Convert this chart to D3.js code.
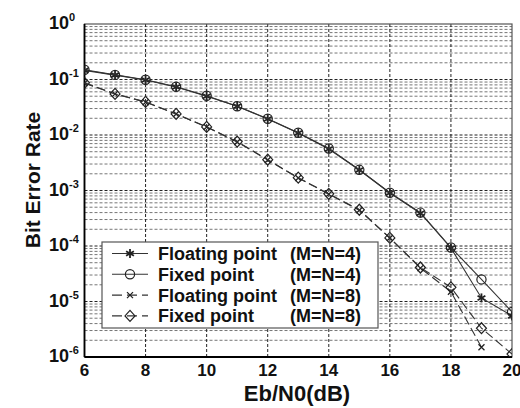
<!DOCTYPE html>
<html><head><meta charset="utf-8">
<script src="https://cdn.jsdelivr.net/npm/d3@7"></script>
<style>body{margin:0;background:#fff}svg{display:block}text{font-family:"Liberation Sans",Arial,sans-serif;font-weight:bold;fill:#111}</style>
</head><body>
<script>
const snr = [6,7,8,9,10,11,12,13,14,15,16,17,18,19,20];
const floatN4 = [0.146,0.120,0.098,0.073,0.050,0.033,0.0194,0.0109,0.0056,0.00234,0.00090,0.00039,9.2e-5,1.16e-5,5.5e-6];
const fixedN4 = [0.150,0.121,0.099,0.074,0.051,0.033,0.0196,0.0110,0.0057,0.00236,0.00091,0.00040,9.4e-5,2.5e-5,6.5e-6];
const snrN8Float = [6,7,8,9,10,11,12,13,14,15,16,17,18,19];
const floatN8 = [0.086,0.055,0.039,0.0239,0.0139,0.0075,0.00355,0.00168,0.00086,0.00044,0.000139,4.0e-5,1.5e-5,1.5e-6];
const fixedN8 = [0.087,0.055,0.0395,0.024,0.014,0.0076,0.0036,0.0017,0.00087,0.00045,0.00014,4.1e-5,1.8e-5,3.3e-6,1.13e-6];
const xTicks = [6,8,10,12,14,16,18,20];
const yExps = [0,-1,-2,-3,-4,-5,-6];
const legendNames = ["Floating point","Fixed point","Floating point","Fixed point"];
const legendParams = ["(M=N=4)","(M=N=4)","(M=N=8)","(M=N=8)"];

const W=520,H=408, L=84.5, R=512, T=24, B=357;
const svg = d3.select("body").append("svg").attr("width",W).attr("height",H);
const x = d3.scaleLinear().domain([6,20]).range([L,R]);
const y = d3.scaleLog().domain([1e-6,1]).range([B,T]);

svg.append("clipPath").attr("id","clip").append("rect").attr("x",L).attr("y",T).attr("width",R-L).attr("height",B-T);

// grid
const g = svg.append("g");
const minor=[];
for(let e=-6;e<0;e++){for(let k=2;k<=9;k++)minor.push(k*Math.pow(10,e));}
g.selectAll("line.mn").data(minor).join("line").attr("x1",L).attr("x2",R)
 .attr("y1",d=>y(d)).attr("y2",d=>y(d)).attr("stroke","#666").attr("stroke-width",0.9).attr("stroke-dasharray","3,2");
g.selectAll("line.mj").data(yExps.slice(1,6)).join("line").attr("x1",L).attr("x2",R)
 .attr("y1",d=>y(Math.pow(10,d))).attr("y2",d=>y(Math.pow(10,d))).attr("stroke","#222").attr("stroke-width",1).attr("stroke-dasharray","3,2");
g.selectAll("line.vx").data(xTicks.slice(1,7)).join("line").attr("y1",T).attr("y2",B)
 .attr("x1",d=>x(d)).attr("x2",d=>x(d)).attr("stroke","#222").attr("stroke-width",1).attr("stroke-dasharray","3,2");

// frame
svg.append("rect").attr("x",L).attr("y",T).attr("width",R-L).attr("height",B-T).attr("fill","none").attr("stroke","#555").attr("stroke-width",1.2);
svg.append("line").attr("x1",L).attr("x2",L).attr("y1",T).attr("y2",B).attr("stroke","#000").attr("stroke-width",1.8);
svg.append("line").attr("x1",L).attr("x2",R).attr("y1",B).attr("y2",B).attr("stroke","#000").attr("stroke-width",1.8);

// axes ticks labels
svg.selectAll("text.xt").data(xTicks).join("text").attr("x",d=>x(d)).attr("y",376)
 .attr("text-anchor","middle").attr("font-size",17).text(d=>d);
const yt = svg.selectAll("text.yt").data(yExps).join("text").attr("x",49).attr("y",d=>y(Math.pow(10,d))+5).attr("font-size",18);
yt.append("tspan").text("10");
yt.append("tspan").attr("dy",-8).attr("font-size",11).text(d=>String(d));

svg.append("text").attr("transform","translate(40,180) rotate(-90)").attr("text-anchor","middle").attr("font-size",21).text("Bit Error Rate");
svg.append("text").attr("x",297).attr("y",401).attr("text-anchor","middle").attr("font-size",22).text("Eb/N0(dB)");

// markers
const stroke="#222";
function marker(sel,type,cx,cy){
  const m = sel.append("g").attr("transform",`translate(${cx},${cy})`).attr("stroke",stroke).attr("stroke-width",1).attr("fill","none");
  if(type==="star"){ for(let a=0;a<3;a++){const t=a*Math.PI/3+Math.PI/2; m.append("line").attr("x1",4.5*Math.cos(t)).attr("y1",4.5*Math.sin(t)).attr("x2",-4.5*Math.cos(t)).attr("y2",-4.5*Math.sin(t));} m.attr("stroke-width",1.8);}
  else if(type==="circle"){ m.append("circle").attr("r",4.6).attr("stroke-width",1.2);}
  else if(type==="x"){ m.append("path").attr("d","M-3,-3L3,3M-3,3L3,-3").attr("stroke-width",1.3);}
  else if(type==="diamond"){ m.append("path").attr("d","M0,-5.5L5,0L0,5.5L-5,0Z").attr("stroke-width",1.2);}
}
const series = [
 {xs:snr,ys:floatN4,dash:null,m:"star"},
 {xs:snr,ys:fixedN4,dash:null,m:"circle"},
 {xs:snrN8Float,ys:floatN8,dash:"9,4",m:"x"},
 {xs:snr,ys:fixedN8,dash:"9,4",m:"diamond"}
];
const plot = svg.append("g").attr("clip-path","url(#clip)");
const line = d3.line().x(d=>x(d[0])).y(d=>y(d[1]));
series.forEach(s=>{
  const pts = s.xs.map((v,i)=>[v,s.ys[i]]);
  plot.append("path").attr("d",line(pts)).attr("fill","none").attr("stroke","#333").attr("stroke-width",1.1).attr("stroke-dasharray",s.dash);
  pts.forEach(p=>marker(plot,s.m,x(p[0]),y(p[1])));
});

// legend
const lg = svg.append("g");
lg.append("rect").attr("x",102).attr("y",242).attr("width",276).attr("height",86).attr("fill","#fff").attr("stroke","#555").attr("stroke-width",1.2);
series.forEach((s,i)=>{
  const cy = 253.5+i*20.8;
  lg.append("line").attr("x1",112).attr("x2",148).attr("y1",cy).attr("y2",cy).attr("stroke","#333").attr("stroke-width",1.1).attr("stroke-dasharray",s.dash?"10,5":null);
  marker(lg,s.m,130,cy);
  lg.append("text").attr("x",158).attr("y",cy+6.5).attr("font-size",18).text(legendNames[i]);
  lg.append("text").attr("x",361).attr("y",cy+6.5).attr("font-size",18).attr("text-anchor","end").text(legendParams[i]);
});
</script>
</body></html>
